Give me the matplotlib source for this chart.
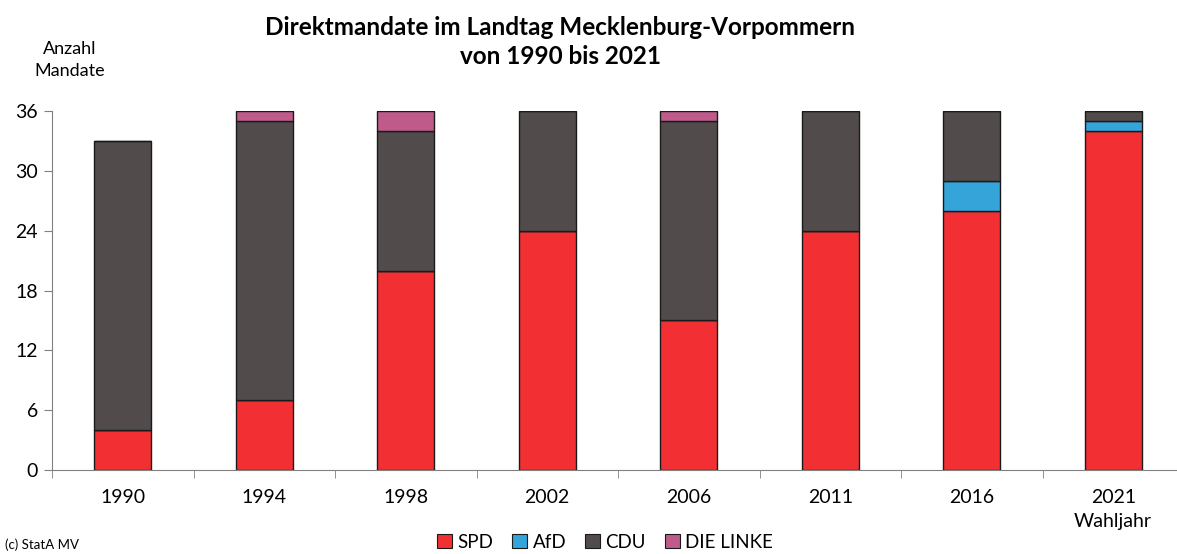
import numpy as np
import matplotlib.pyplot as plt
from matplotlib.patches import Patch

plt.rcParams['font.family'] = ['Lato', 'DejaVu Sans']

# Wahljahre und Direktmandate je Partei
jahre = ['1990', '1994', '1998', '2002', '2006', '2011', '2016', '2021']
spd = [4, 7, 20, 24, 15, 24, 26, 34]
afd = [0, 0, 0, 0, 0, 0, 3, 1]
cdu = [29, 28, 14, 12, 20, 12, 7, 1]
linke = [0, 1, 2, 0, 1, 0, 0, 0]

parteien = ['SPD', 'AfD', 'CDU', 'DIE LINKE']
farben = ['#F23034', '#35A4D8', '#524B4B', '#BE5B8A']

fig = plt.figure(figsize=(11.77, 5.54), dpi=100)
ax = fig.add_axes([52 / 1177, 84 / 554, 1132 / 1177, 359 / 554])

x = np.arange(len(jahre))
bottom = np.zeros(len(jahre))
for werte, farbe in zip([spd, afd, cdu, linke], farben):
    ax.bar(x, werte, width=0.4, bottom=bottom, color=farbe,
           edgecolor='#1a1a1a', linewidth=1.0, zorder=2)
    bottom += np.array(werte)

ax.set_xlim(-0.5, len(jahre) - 0.5)
ax.set_ylim(0, 36)
ax.set_yticks(range(0, 37, 6))
ax.set_xticks(x)
ax.set_xticklabels(jahre)
ax.set_xticks(np.arange(-0.5, len(jahre), 1.0), minor=True)
ax.tick_params(axis='x', which='major', length=0, pad=14, labelsize=14)
ax.tick_params(axis='x', which='minor', length=6, color='#808080')
ax.tick_params(axis='y', length=6, color='#808080', labelsize=14, pad=4)

for s in ['top', 'right']:
    ax.spines[s].set_visible(False)
for s in ['left', 'bottom']:
    ax.spines[s].set_color('#808080')

fig.text(0.476, 1 - 42 / 554, 'Direktmandate im Landtag Mecklenburg-Vorpommern\nvon 1990 bis 2021',
         ha='center', va='center', fontsize=17.5, fontweight='bold', linespacing=1.3)
fig.text(70 / 1177, 1 - 60 / 554, 'Anzahl\nMandate', ha='center', va='center',
         fontsize=13, linespacing=1.45)
fig.text(1113 / 1177, 1 - 521 / 554, 'Wahljahr', ha='center', va='center', fontsize=14)
fig.text(5 / 1177, 1 - 545 / 554, '(c) StatA MV', ha='left', va='center', fontsize=9.5)

handles = [Patch(facecolor=f, edgecolor='#1a1a1a', linewidth=0.8) for f in farben]
fig.legend(handles, parteien, loc='center', bbox_to_anchor=(605 / 1177, 1 - 542 / 554),
           ncol=4, frameon=False, fontsize=13.5, handlelength=0.8, handleheight=0.8,
           handletextpad=0.3, columnspacing=1.0)

fig.savefig('out.png', dpi=100)
